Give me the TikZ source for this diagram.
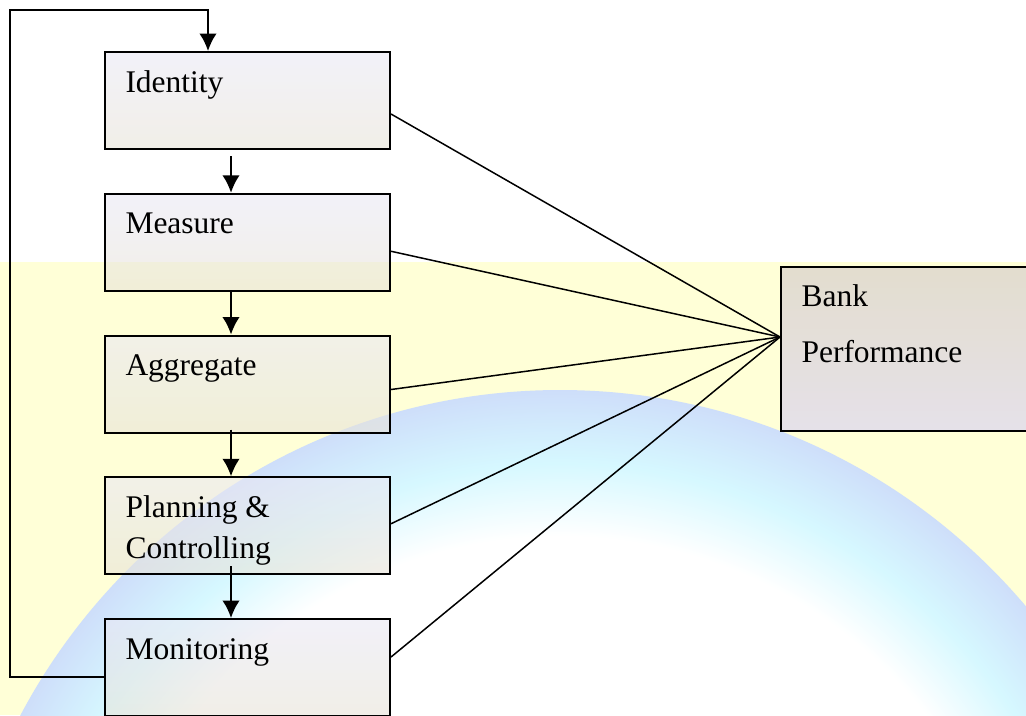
\documentclass[tikz,border=0pt]{standalone}
\usepackage{fontspec}
\setmainfont{Liberation Serif}
\usetikzlibrary{positioning,calc,arrows.meta}
\definecolor{bgyellow}{RGB}{255,255,215}
\definecolor{boxtop}{RGB}{234,232,244}
\definecolor{boxbot}{RGB}{232,228,216}
\definecolor{banktop}{RGB}{226,220,206}
\definecolor{bankmid}{RGB}{255,255,225}
\definecolor{bankbot}{RGB}{228,224,234}
\definecolor{globecyan}{RGB}{214,248,255}
\definecolor{globeblue}{RGB}{206,222,250}
\pgfdeclareradialshading{globe}{\pgfpoint{0bp}{0bp}}{color(0bp)=(white); color(19bp)=(white); color(22bp)=(globecyan); color(25bp)=(globeblue); color(50bp)=(globeblue)}

\begin{document}
\begin{tikzpicture}[x=0.4pt,y=-0.4pt,node distance=17.1pt,
  stage/.style={draw,line width=0.8pt,minimum width=114pt,minimum height=38.8pt,inner sep=0pt,
    top color=boxtop,middle color=white,bottom color=boxbot,fill opacity=0.6,anchor=north west},
  lbl/.style={anchor=base west,inner sep=0pt,font=\fontsize{12.6}{15}\selectfont},
  >={Latex[length=7pt,width=7pt]}]

% background
\fill[bgyellow] (0,262) rectangle (1026,715);
\begin{scope}
\clip (0,0) rectangle (1026,715);
\shade[shading=globe] (560,1000) circle[radius=610];
\end{scope}
\useasboundingbox (0,0) rectangle (1026,715);

% stages
\node[stage] (id) at (104,51) {};
\node[stage,below=of id] (ms) {};
\node[stage,below=of ms] (ag) {};
\node[stage,below=of ag] (pc) {};
\node[stage,below=of pc] (mo) {};
\node[stage,minimum width=98.4pt,minimum height=65.6pt,top color=banktop,middle color=bankmid,bottom color=bankbot,fill opacity=0.95] (bp) at (780,266) {};

\node[lbl] (id-t) at ($(id.north west)+(21,41)$) {Identity};
\node[lbl] (ms-t) at ($(ms.north west)+(21,41)$) {Measure};
\node[lbl] (ag-t) at ($(ag.north west)+(21,41)$) {Aggregate};
\node[lbl] (pc-t) at ($(pc.north west)+(21,41)$) {Planning \&};
\node[lbl] (pc-t2) at ($(pc.north west)+(21,82)$) {Controlling};
\node[lbl] (mo-t) at ($(mo.north west)+(21,41)$) {Monitoring};
\node[lbl] (bp-t) at ($(bp.north west)+(21,40)$) {Bank};
\node[lbl] (bp-t2) at ($(bp.north west)+(21,96)$) {Performance};

% links to bank performance
\coordinate (hub) at ([yshift=4.8pt]bp.west);
\foreach \n/\s in {id/-5.4,ms/-3.6,ag/-2.2,pc/0.8,mo/4.2}
  \draw[line width=0.6pt] ([yshift=\s pt]\n.east) -- (hub);

% flow
\foreach \a/\b/\s in {id/ms/-2.4,ms/ag/0,ag/pc/1.6,pc/mo/3.6}
  \draw[->,line width=0.8pt] ([xshift=-6.6pt,yshift=\s pt]\a.south) -- ([xshift=-6.6pt]\b.north);

\coordinate (corner) at (10,10);
\draw[->,line width=0.8pt] ([yshift=-3.8pt]mo.west) -| (corner) -| ([xshift=-15.8pt]id.north);
\end{tikzpicture}
\end{document}
